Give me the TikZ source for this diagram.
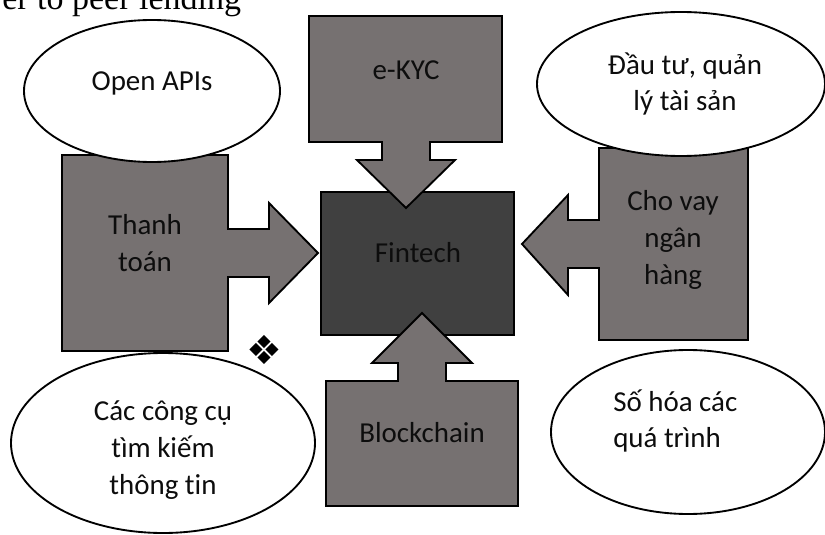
\documentclass[tikz,border=0pt]{standalone}
\usepackage{fontspec}
\setmainfont[Ligatures=NoCommon]{Carlito}
\newfontfamily\seriffont{Liberation Serif}
\newfontfamily\symfont{DejaVu Sans}
\definecolor{boxgray}{HTML}{767171}
\definecolor{coregray}{HTML}{404040}
\definecolor{txt}{HTML}{0D0D0D}
\tikzset{
  shapebox/.style={draw=black, line width=1.4pt, fill=boxgray, line join=miter},
  corebox/.style={draw=black, line width=1.4pt, fill=coregray},
  bubble/.style={draw=black, line width=1.4pt, fill=white},
  lbl/.style={font=\fontsize{21.7}{27.5}\selectfont, text=txt, align=center, inner sep=0pt},
}
\begin{document}
\begin{tikzpicture}[x=0.75pt,y=-0.75pt]
\useasboundingbox (0,0) rectangle (825,535);
\begin{scope}
\clip (0,0) rectangle (825,535);
\node[anchor=base west, inner sep=0pt, font=\seriffont\fontsize{25.5}{30}\selectfont] (toptext) at (2,10) {er to peer lending};

% Fintech core
\draw[corebox] (321,192) rectangle (514,335);
\node[lbl] (fintech) at (418,253) {Fintech};

% Thanh toan (arrow right)
\draw[shapebox] (62,155) -- (228,155) -- (228,229) -- (269,229) -- (269,203) -- (318,253) -- (269,303) -- (269,277) -- (228,277) -- (228,351) -- (62,351) -- cycle;
\node[lbl] (pay) at (145,243) {Thanh\\toán};

% e-KYC (arrow down)
\draw[shapebox] (309,16) -- (502,16) -- (502,142) -- (430,142) -- (430,160) -- (455,160) -- (406,208) -- (357,160) -- (382,160) -- (382,142) -- (309,142) -- cycle;
\node[lbl] (ekyc) at (406,70) {e-KYC};

% Blockchain (arrow up)
\draw[shapebox] (326,381) -- (398,381) -- (398,363) -- (372,363) -- (422,313) -- (472,363) -- (446,363) -- (446,381) -- (518,381) -- (518,506) -- (326,506) -- cycle;
\node[lbl] (chain) at (422,433) {Blockchain};

% Cho vay (arrow left)
\draw[shapebox] (599,148) -- (748,148) -- (748,340) -- (599,340) -- (599,268) -- (568,268) -- (568,295) -- (522,244) -- (568,195) -- (568,220) -- (599,220) -- cycle;
\node[lbl] (loan) at (673,240) {Cho vay\\ngân\\hàng};

% ellipses
\draw[bubble] (152,91) ellipse [x radius=128, y radius=71];
\node[lbl] (api) at (152,83) {Open APIs};

\draw[bubble] (681,84) ellipse [x radius=144, y radius=72];
\node[lbl] (invest) at (685,84) {Đầu tư, quản\\lý tài sản};

\draw[bubble] (163,443) ellipse [x radius=152, y radius=90];
\node[lbl] (search) at (163,450) {Các công cụ\\tìm kiếm\\thông tin};

\draw[bubble] (688,432) ellipse [x radius=137, y radius=82];
\node[lbl, align=left, anchor=west] (digit) at (613,421) {Số hóa các\\quá trình};

\node[inner sep=0pt, font=\symfont\fontsize{30}{30}\selectfont] (mark) at (264,350) {❖};
\end{scope}
\end{tikzpicture}
\end{document}
